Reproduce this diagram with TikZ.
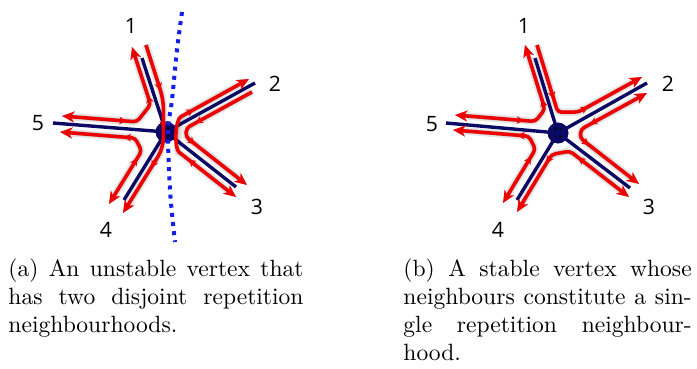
\documentclass[tikz,border=0pt]{standalone}
\usepackage{fontspec}
\newfontfamily\numfont{Open Sans}
\usetikzlibrary{arrows.meta,calc}
\definecolor{navyspoke}{RGB}{10,10,100}
\definecolor{redarrow}{RGB}{238,0,0}
\definecolor{dotblue}{RGB}{20,30,235}
\pgfdeclarelayer{shadowlayer}
\pgfsetlayers{shadowlayer,main}
\tikzset{
  spoke/.style={draw=navyspoke, line width=1.45pt},
  vertex/.style={circle, fill=navyspoke, minimum size=8.8pt, inner sep=0pt},
  numlbl/.style={font=\numfont\fontsize{9}{10}\selectfont, inner sep=0pt},
  capt/.style={anchor=north west, inner sep=0pt, align=justify},
  bigtip/.tip={Stealth[length=5.2pt,width=4.6pt,inset=1.5pt]},
  smalltip/.tip={Stealth[length=3pt,width=3.2pt,inset=0.9pt]},
  redl/.style={draw=redarrow, line width=1.5pt, rounded corners=1.6pt},
  shadowa/.style={draw=black!10, line width=3.2pt, rounded corners=1.6pt, shift={(2.6,3.6)}},
  shadowb/.style={draw=black!22, line width=1.8pt, rounded corners=1.6pt, shift={(1.8,2.5)}},
  endonly/.style={-{bigtip}},
  bothends/.style={{bigtip}-{bigtip}},
  dotsep/.style={draw=dotblue, line width=1.7pt, dash pattern=on 1.7pt off 2.2pt}
}
\newcommand\redpath[2]{%
  \begin{pgfonlayer}{shadowlayer}
    \draw[shadowa,#1] #2;
    \draw[shadowb,#1] #2;
  \end{pgfonlayer}
  \draw[redl,#1] #2;}
\newcommand\midarr[4]{%
  \begin{pgfonlayer}{shadowlayer}
    \draw[shadowb,-{smalltip}] ($(#1)!#3!(#2)$) -- ($(#1)!#4!(#2)$);
  \end{pgfonlayer}
  \draw[redl,-{smalltip}] ($(#1)!#3!(#2)$) -- ($(#1)!#4!(#2)$);}
\begin{document}
\begin{tikzpicture}[x=0.425pt, y=-0.425pt]
\useasboundingbox (0,0) rectangle (697,369);

% ---------------- left figure ----------------
\coordinate (eL1) at (142,58);
\coordinate (eL2) at (255,83);
\coordinate (eL3) at (236,187);
\coordinate (eL4) at (124,200);
\coordinate (eL5) at (53,123);
\node[vertex] (vL) at (166,132) {};
\foreach \i in {1,...,5} { \draw[spoke] (vL.center) -- (eL\i); }
\node[vertex] at (vL.center) {};
\fill[black] (163.5,128.5) circle[radius=0.5pt] (168.5,128.5) circle[radius=0.5pt]
             (163.5,135.5) circle[radius=0.5pt] (168.5,135.5) circle[radius=0.5pt];

\coordinate (tL1a) at (146,45);  \coordinate (tL1b) at (132,47);
\coordinate (tL2a) at (252,92);  \coordinate (tL2b) at (249,79);
\coordinate (tL3a) at (236,197); \coordinate (tL3b) at (247,185);
\coordinate (tL4a) at (109,204); \coordinate (tL4b) at (123,213);
\coordinate (tL5a) at (62,116);  \coordinate (tL5b) at (60,132);

\coordinate (cL51a) at (136.9,121.9); \coordinate (cL51b) at (150.6,104.5);
\coordinate (cL45a) at (141.7,151);   \coordinate (cL45b) at (135.1,138);
\coordinate (cL14a) at (163.5,100);   \coordinate (cL14b) at (163.3,148);
\coordinate (cL23a) at (186.5,128);   \coordinate (cL23b) at (185.8,136.8);
\coordinate (cL32a) at (182,154.5);   \coordinate (cL32b) at (184,115);

\redpath{bothends}{(tL5a) -- (cL51a) -- (cL51b) -- (tL1b)}
\midarr{tL5a}{cL51a}{0.78}{0.86}\midarr{cL51b}{tL1b}{0.05}{0.15}
\redpath{bothends}{(tL4a) -- (cL45a) -- (cL45b) -- (tL5b)}
\midarr{tL4a}{cL45a}{0.78}{0.86}\midarr{cL45b}{tL5b}{0.05}{0.15}
\redpath{endonly,rounded corners=4pt}{(tL1a) -- (cL14a) -- (cL14b) -- (tL4b)}
\midarr{tL1a}{cL14a}{0.7}{0.82}\midarr{cL14a}{cL14b}{0.45}{0.6}\midarr{cL14b}{tL4b}{0.18}{0.3}
\redpath{endonly}{(tL2a) -- (cL23a) -- (cL23b) -- (tL3b)}
\midarr{tL2a}{cL23a}{0.78}{0.86}\midarr{cL23b}{tL3b}{0.05}{0.15}
\redpath{bothends}{(tL3a) -- (cL32a) .. controls (174.1,148.3) and (175.2,119.8) .. (cL32b) -- (tL2b)}
\midarr{tL3a}{cL32a}{0.78}{0.88}\midarr{cL32b}{tL2b}{0.05}{0.15}

\draw[dotsep] plot[smooth] coordinates {(182,12) (177,50) (172,100) (168,132) (170,190) (174,233) (175,242)};

\node[numlbl] (lL1) at (131,26) {1};
\node[numlbl] (lL2) at (275,84) {2};
\node[numlbl] (lL3) at (257,207) {3};
\node[numlbl] (lL4) at (106,230) {4};
\node[numlbl] (lL5) at (38,123) {5};

% ---------------- right figure ----------------
\coordinate (eR1) at (535,58);
\coordinate (eR2) at (647,83);
\coordinate (eR3) at (630,188);
\coordinate (eR4) at (517,200);
\coordinate (eR5) at (446,123);
\node[vertex] (vR) at (558,133) {};
\foreach \i in {1,...,5} { \draw[spoke] (vR.center) -- (eR\i); }
\node[vertex] at (vR.center) {};
\fill[black] (555.5,129.5) circle[radius=0.5pt] (560.5,129.5) circle[radius=0.5pt]
             (555.5,136.5) circle[radius=0.5pt] (560.5,136.5) circle[radius=0.5pt];

\coordinate (tR1a) at (537,45);  \coordinate (tR1b) at (525,45);
\coordinate (tR2a) at (647,93);  \coordinate (tR2b) at (642,77);
\coordinate (tR3a) at (629,197); \coordinate (tR3b) at (639,184);
\coordinate (tR4a) at (503,203); \coordinate (tR4b) at (517,212);
\coordinate (tR5a) at (455,115); \coordinate (tR5b) at (453,130);

\coordinate (cR12a) at (557.8,112.2); \coordinate (cR12b) at (578.3,112.1);
\coordinate (cR23a) at (580.9,129.3); \coordinate (cR23b) at (580.2,138.1);
\coordinate (cR34a) at (569.9,151.1); \coordinate (cR34b) at (551.7,154.5);
\coordinate (cR45a) at (535.5,149.2); \coordinate (cR45b) at (528.8,136.1);
\coordinate (cR51a) at (535.2,121.5); \coordinate (cR51b) at (544.9,109.2);

\redpath{endonly}{(tR1a) -- (cR12a) -- (cR12b) -- (tR2b)}
\midarr{tR1a}{cR12a}{0.72}{0.8}\midarr{cR12b}{tR2b}{0.05}{0.15}
\redpath{bothends}{(tR2a) -- (cR23a) -- (cR23b) -- (tR3b)}
\midarr{tR2a}{cR23a}{0.78}{0.86}\midarr{cR23b}{tR3b}{0.05}{0.15}
\redpath{bothends}{(tR3a) -- (cR34a) -- (cR34b) -- (tR4b)}
\midarr{tR3a}{cR34a}{0.78}{0.86}\midarr{cR34b}{tR4b}{0.05}{0.15}
\redpath{bothends}{(tR4a) -- (cR45a) -- (cR45b) -- (tR5b)}
\midarr{tR4a}{cR45a}{0.78}{0.86}\midarr{cR45b}{tR5b}{0.05}{0.15}
\redpath{bothends}{(tR5a) -- (cR51a) -- (cR51b) -- (tR1b)}
\midarr{tR5a}{cR51a}{0.78}{0.86}\midarr{cR51b}{tR1b}{0.05}{0.15}

\node[numlbl] (lR1) at (524,26) {1};
\node[numlbl] (lR2) at (668,84) {2};
\node[numlbl] (lR3) at (649,207) {3};
\node[numlbl] (lR4) at (498,230) {4};
\node[numlbl] (lR5) at (432,124) {5};

% ---------------- captions ----------------
\node[capt, text width=125.4pt] (capA) at (8,258)
  {(a) An unstable vertex that\linebreak has two disjoint repetition\linebreak neighbourhoods.};
\node[capt, text width=122.5pt] (capB) at (403,258)
  {(b) A stable vertex whose\linebreak neighbours constitute a sin-\linebreak gle repetition neighbour-\linebreak hood.};
\end{tikzpicture}
\end{document}
